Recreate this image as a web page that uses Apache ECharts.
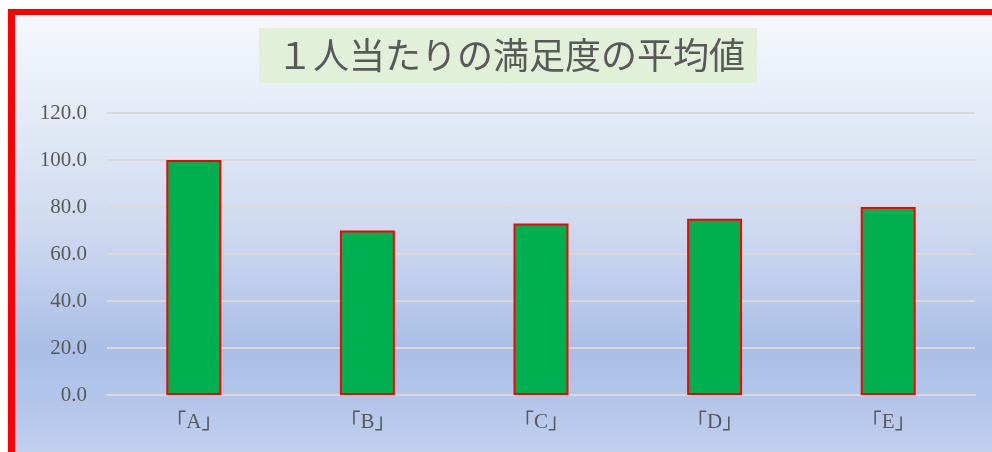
<!DOCTYPE html>
<html>
<head>
<meta charset="utf-8">
<script src="https://cdn.jsdelivr.net/npm/echarts@6/dist/echarts.min.js"></script>
<style>
html,body{margin:0;padding:0;background:#fff;width:992px;height:452px;overflow:hidden;}
#wrap{position:absolute;left:8px;top:9px;width:990px;height:437px;border-top:6px solid #ff0000;border-left:7px solid #ff0000;
background:linear-gradient(to bottom,#f6f8fd 0%,#e3e9f6 25%,#cfdaf0 48%,#aabfe6 76%,#b4c6ea 90%,#c2d0ee 100%);}
#chart{position:absolute;left:0;top:0;width:992px;height:452px;}
</style>
</head>
<body>
<div id="wrap"></div>
<div id="chart"></div>
<script>
const titleText = '１人当たりの満足度の平均値';
const categories = ['「A」','「B」','「C」','「D」','「E」'];
const values = [100, 70, 73, 75, 80];
const yMin = 0, yMax = 120, yInterval = 20;

const chart = echarts.init(document.getElementById('chart'), null, {renderer:'canvas'});
chart.setOption({
  backgroundColor: 'transparent',
  animation: false,
  title: {
    text: titleText,
    left: 259, top: 28,
    backgroundColor: '#e2efd9',
    padding: [7, 12, 7, 18],
    textStyle: {fontSize: 36, fontWeight: 'normal', color: '#595959', fontFamily: 'Noto Sans CJK JP', lineHeight: 41}
  },
  grid: {left: 107, right: 17, top: 113, bottom: 57},
  xAxis: {
    type: 'category',
    data: categories,
    axisTick: {show: false},
    axisLine: {lineStyle: {color: '#d9d9d9', width: 2}},
    axisLabel: {color: '#595959', fontSize: 21, margin: 17, fontFamily: 'Liberation Serif, Noto Sans CJK JP'}
  },
  yAxis: {
    type: 'value',
    min: yMin, max: yMax, interval: yInterval,
    axisLine: {show: false},
    axisTick: {show: false},
    splitLine: {lineStyle: {color: '#d9d9d9', width: 2}},
    axisLabel: {color: '#595959', fontSize: 21, margin: 20, fontFamily: 'Liberation Serif',
      formatter: v => v.toFixed(1)}
  },
  series: [{
    type: 'bar',
    data: values,
    barWidth: 55,
    itemStyle: {color: '#00b050', borderColor: '#ff0000', borderWidth: 2}
  }]
});
</script>
</body>
</html>
